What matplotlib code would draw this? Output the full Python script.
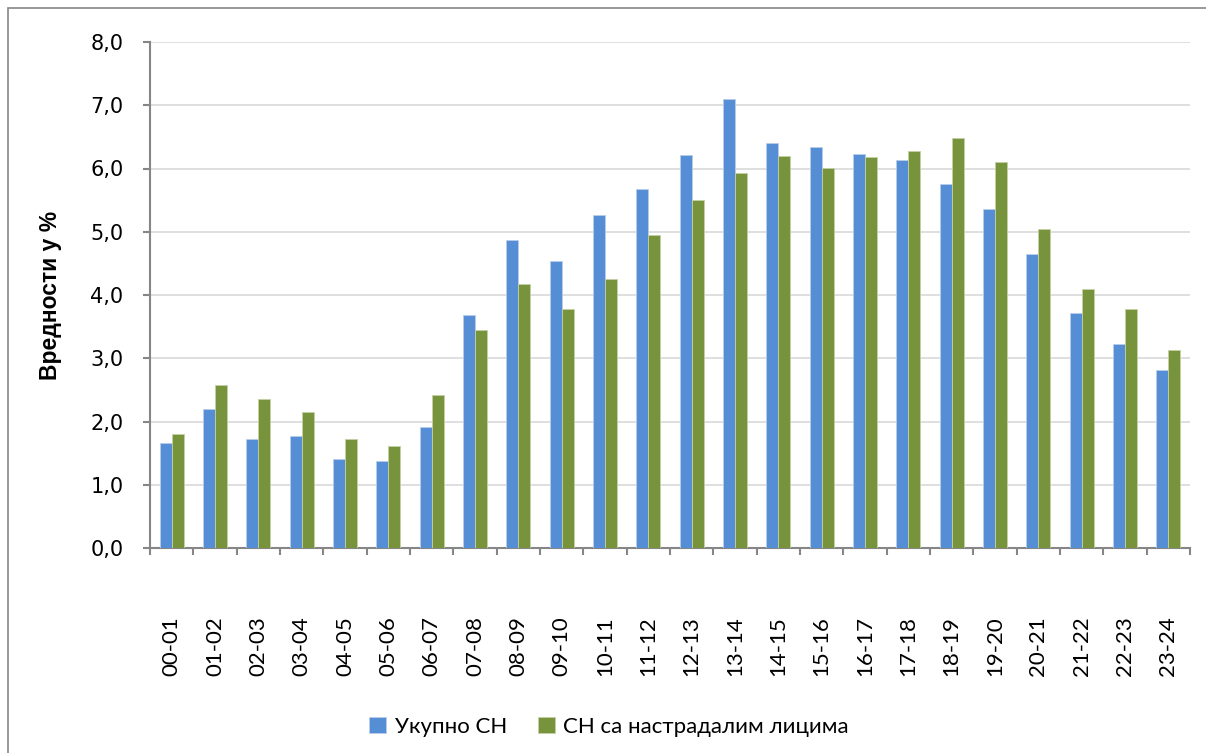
import matplotlib
matplotlib.use("Agg")
import matplotlib.pyplot as plt
import numpy as np
from matplotlib.patches import Rectangle

categories = ["00-01", "01-02", "02-03", "03-04", "04-05", "05-06", "06-07", "07-08",
              "08-09", "09-10", "10-11", "11-12", "12-13", "13-14", "14-15", "15-16",
              "16-17", "17-18", "18-19", "19-20", "20-21", "21-22", "22-23", "23-24"]
ukupno = [1.66, 2.20, 1.72, 1.77, 1.41, 1.38, 1.91, 3.68, 4.87, 4.54, 5.26, 5.68,
          6.21, 7.10, 6.40, 6.34, 6.23, 6.13, 5.75, 5.36, 4.65, 3.72, 3.23, 2.81]
nastradali = [1.80, 2.58, 2.36, 2.15, 1.72, 1.61, 2.42, 3.45, 4.17, 3.78, 4.25, 4.95,
              5.50, 5.93, 6.20, 6.01, 6.18, 6.28, 6.48, 6.10, 5.04, 4.10, 3.78, 3.13]
yticks = [0, 1, 2, 3, 4, 5, 6, 7, 8]
series_names = ["Укупно СН", "СН са настрадалим лицима"]
ylabel = "Вредности у %"

blue = "#558ED5"
green = "#77933C"
grey = "#868686"

fig = plt.figure(figsize=(12.06, 7.53), dpi=100)
ax = fig.add_axes([150/1206, 205/753, 1040/1206, 506/753])

x = np.arange(len(categories))
w = 0.28
ax.bar(x - w/2, ukupno, w, color=blue, edgecolor="#b9cdea", linewidth=0.6, label=series_names[0], zorder=3)
ax.bar(x + w/2, nastradali, w, color=green, edgecolor="#c3d1a4", linewidth=0.6, label=series_names[1], zorder=3)

ax.set_xlim(-0.5, len(categories) - 0.5)
ax.set_ylim(0, 8)
ax.set_yticks(yticks)
ax.set_yticklabels([f"{v:.1f}".replace(".", ",") for v in yticks], fontsize=15, family="DejaVu Sans")
ax.yaxis.grid(True, color="#d9d9d9", linewidth=1.2, zorder=0)
ax.set_axisbelow(True)

for s in ["top", "right"]:
    ax.spines[s].set_visible(False)
for s in ["left", "bottom"]:
    ax.spines[s].set_color(grey)
    ax.spines[s].set_linewidth(1.5)

ax.tick_params(axis="y", length=5, width=1.5, color=grey, pad=14)

ax.set_xticks(x)
ax.set_xticklabels(categories, rotation=90, fontsize=16, family=["Lato", "Open Sans", "DejaVu Sans"])
ax.tick_params(axis="x", which="major", length=0, pad=49)
ax.set_xticks(np.arange(-0.5, len(categories), 1.0), minor=True)
ax.tick_params(axis="x", which="minor", length=5, width=1.5, color=grey)

ax.set_ylabel(ylabel, fontsize=16.5, fontweight="bold", family=["Liberation Sans Narrow", "Liberation Sans", "DejaVu Sans"])
ax.yaxis.set_label_coords(-0.085, 0.5)

leg = fig.legend(loc="center", bbox_to_anchor=(609/1206, 26/753), ncol=2, frameon=False,
                 prop={"family": ["Lato", "Open Sans", "DejaVu Sans"], "size": 16},
                 handlelength=0.75, handleheight=0.75, handletextpad=0.4, columnspacing=1.4)

fig.patches.append(Rectangle((8/1206, -0.1), 1.2, (753-8)/753 + 0.1, transform=fig.transFigure,
                             fill=False, edgecolor=grey, linewidth=1.2))

fig.savefig("out.png", dpi=100)
